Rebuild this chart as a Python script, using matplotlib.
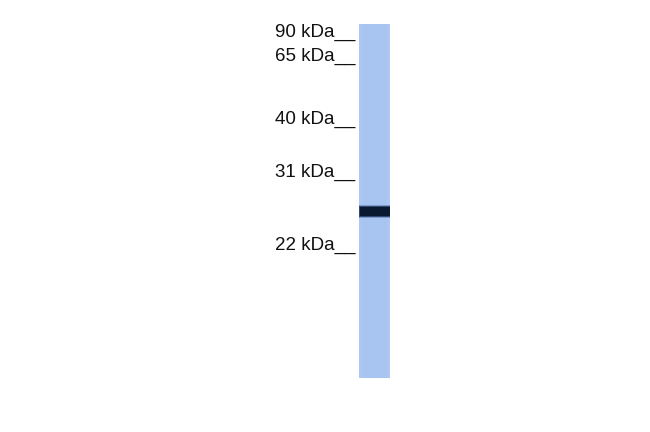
import matplotlib
matplotlib.use("Agg")
import matplotlib.pyplot as plt
import numpy as np

# Marker ladder (kDa) and their vertical positions (image pixel rows)
marker_labels = ["90 kDa__", "65 kDa__", "40 kDa__", "31 kDa__", "22 kDa__"]
marker_rows = [37.3, 60.5, 123.5, 177.0, 249.5]

# Lane and band (image pixel units)
lane_center = [374.5]
lane_width = [31]
lane_top = [24]
lane_bottom = [378]
band_rows = [211.7]
band_heights = [8.5]

W, H = 650, 432
fig = plt.figure(figsize=(W / 100, H / 100), dpi=100)
ax = fig.add_axes([0, 0, 1, 1])
ax.set_xlim(0, W)
ax.set_ylim(H, 0)
ax.axis("off")

lane_color = "#abc7f2"
band_color = "#0a1830"

# lane
ax.bar(lane_center, [b - t for t, b in zip(lane_top, lane_bottom)], width=lane_width,
       bottom=lane_top, color=lane_color, edgecolor="none")
for c, w, t, b in zip(lane_center, lane_width, lane_top, lane_bottom):
    ax.bar([c], [b - t], width=w - 6, bottom=[t], color="#a8c4f1", edgecolor="none")

# band with soft edges
for c, w in zip(lane_center, lane_width):
    for y, h in zip(band_rows, band_heights):
        ax.bar([c], [h + 4], width=w, bottom=[y - (h + 4) / 2], color="#3a5a8e",
               alpha=0.4, edgecolor="none")
        ax.bar([c], [h + 2], width=w, bottom=[y - (h + 2) / 2], color="#1a2e52",
               alpha=0.75, edgecolor="none")
        ax.bar([c + 0.5], [h], width=w - 1, bottom=[y - h / 2], color=band_color,
               edgecolor="none")

# marker labels
for lab, y in zip(marker_labels, marker_rows):
    ax.text(355, y, lab, ha="right", va="baseline", fontsize=13.5,
            family=["Liberation Sans", "DejaVu Sans"], color="#111111")

fig.savefig("out.png", dpi=100, facecolor="white")
